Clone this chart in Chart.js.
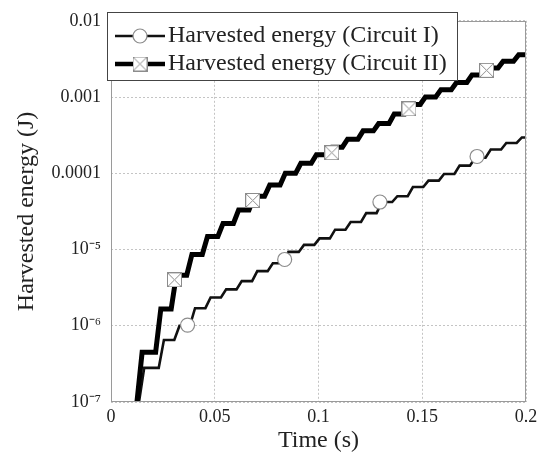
<!DOCTYPE html>
<html>
<head>
<meta charset="utf-8">
<script src="https://cdn.jsdelivr.net/npm/chart.js@4.4.1/dist/chart.umd.min.js"></script>
<style>
  body { margin: 0; background: #fff; }
  #wrap { width: 545px; height: 455px; }
</style>
</head>
<body>
<div id="wrap"><canvas id="energyChart" width="545" height="455"></canvas></div>
<script>
// values
var seriesNames = ['Harvested energy (Circuit I)', 'Harvested energy (Circuit II)'];

var xTickValues = [0, 0.05, 0.1, 0.15, 0.2];
var xTickLabels = ['0', '0.05', '0.1', '0.15', '0.2'];
var yTickValues = [1e-7, 1e-6, 1e-5, 1e-4, 1e-3, 1e-2];
var yTickLabels = ['10\u207B\u2077', '10\u207B\u2076', '10\u207B\u2075', '0.0001', '0.001', '0.01'];

// time (s) where each step starts to rise
var stepTimesI = [0.0135, 0.023, 0.0305, 0.038, 0.0455, 0.053, 0.0605, 0.068, 0.0755, 0.083, 0.0905, 0.098, 0.1055,
                  0.113, 0.1205, 0.128, 0.1355, 0.143, 0.1505, 0.158, 0.1655, 0.173, 0.1805, 0.188, 0.1955];
var stepTimesII = [0.0125, 0.0215, 0.029, 0.0365, 0.044, 0.0515, 0.059, 0.0665, 0.074, 0.0815, 0.089, 0.0965, 0.104,
                   0.1115, 0.119, 0.1265, 0.134, 0.1415, 0.149, 0.1565, 0.164, 0.1715, 0.179, 0.1865, 0.194];

// energy (J) after each step
var levelsI = [2.8e-7, 6.5e-7, 1.0e-6, 1.7e-6, 2.35e-6, 3.0e-6, 3.85e-6, 5.2e-6, 6.6e-6, 9.3e-6, 1.15e-5, 1.4e-5, 1.82e-5,
               2.3e-5, 3.0e-5, 4.2e-5, 5.0e-5, 6.6e-5, 8.0e-5, 9.8e-5, 1.26e-4, 1.6e-4, 2.05e-4, 2.5e-4, 2.95e-4];
var levelsII = [4.5e-7, 1.66e-6, 4.6e-6, 8.6e-6, 1.48e-5, 2.2e-5, 3.3e-5, 5.0e-5, 7.0e-5, 1.0e-4, 1.35e-4, 1.75e-4, 2.2e-4,
                2.8e-4, 3.6e-4, 4.5e-4, 6.0e-4, 8.0e-4, 1.0e-3, 1.25e-3, 1.55e-3, 1.95e-3, 2.4e-3, 2.95e-3, 3.6e-3];

var startLevel = 1e-7;
var riseTime = 0.0025;
var endTime = 0.2;

// marker positions
var markerXI = [0.0369, 0.0837, 0.1296, 0.1764];
var markerYI = [1.02e-6, 7.4e-6, 4.2e-5, 1.66e-4];
var markerXII = [0.0306, 0.0683, 0.1064, 0.1436, 0.181];
var markerYII = [4.0e-6, 4.4e-5, 1.86e-4, 7.0e-4, 2.24e-3];

function staircase(times, levels) {
    var pts = [];
    var prev = startLevel;
    for (var i = 0; i < times.length; i++) {
        pts.push({x: times[i], y: prev});
        pts.push({x: times[i] + riseTime, y: levels[i]});
        prev = levels[i];
    }
    pts.push({x: endTime, y: prev});
    return pts;
}

function toPoints(xs, ys) {
    return xs.map(function (x, i) { return {x: x, y: ys[i]}; });
}

// square with a cross, used for circuit II
function makeBoxCross(size) {
    var c = document.createElement('canvas');
    c.width = size;
    c.height = size;
    var g = c.getContext('2d');
    g.fillStyle = '#fff';
    g.fillRect(0, 0, size, size);
    g.strokeStyle = '#8c8c8c';
    g.lineWidth = 1;
    g.strokeRect(0.5, 0.5, size - 1, size - 1);
    g.beginPath();
    g.moveTo(1, 1); g.lineTo(size - 1, size - 1);
    g.moveTo(size - 1, 1); g.lineTo(1, size - 1);
    g.stroke();
    return c;
}
var boxCross = makeBoxCross(15);

Chart.defaults.font.family = '"Liberation Serif", "Times New Roman", serif';
Chart.defaults.color = '#222';

var framePlugin = {
    id: 'frame',
    afterDatasetsDraw: function (chart) {
        var a = chart.chartArea, ctx = chart.ctx;
        ctx.save();
        ctx.strokeStyle = '#9a9a9a';
        ctx.lineWidth = 1;
        ctx.strokeRect(Math.round(a.left) + 0.5, Math.round(a.top) + 0.5,
                       Math.round(a.right - a.left) - 1, Math.round(a.bottom - a.top) - 1);
        ctx.restore();
    }
};

var legendPlugin = {
    id: 'boxLegend',
    afterDraw: function (chart) {
        var ctx = chart.ctx;
        ctx.save();
        ctx.fillStyle = '#fff';
        ctx.fillRect(107, 12, 351, 69);
        ctx.strokeStyle = '#444';
        ctx.lineWidth = 1;
        ctx.strokeRect(107.5, 12.5, 350, 68);

        var rows = [36, 64];
        // circuit I sample
        ctx.strokeStyle = '#111';
        ctx.lineWidth = 2.6;
        ctx.beginPath(); ctx.moveTo(115, rows[0]); ctx.lineTo(165, rows[0]); ctx.stroke();
        ctx.beginPath(); ctx.arc(140, rows[0], 7, 0, Math.PI * 2);
        ctx.fillStyle = '#fff'; ctx.fill();
        ctx.strokeStyle = '#8c8c8c'; ctx.lineWidth = 1.2; ctx.stroke();
        // circuit II sample
        ctx.strokeStyle = '#000';
        ctx.lineWidth = 4.5;
        ctx.beginPath(); ctx.moveTo(115, rows[1]); ctx.lineTo(165, rows[1]); ctx.stroke();
        ctx.drawImage(boxCross, 140 - 7.5, rows[1] - 7.5);

        ctx.fillStyle = '#222';
        ctx.font = '24px "Liberation Serif", "Times New Roman", serif';
        ctx.textBaseline = 'middle';
        ctx.textAlign = 'left';
        ctx.fillText(seriesNames[0], 168, rows[0]);
        ctx.fillText(seriesNames[1], 168, rows[1]);
        ctx.restore();
    }
};

var ctx = document.getElementById('energyChart').getContext('2d');
var energyChart = new Chart(ctx, {
    type: 'line',
    data: {
        datasets: [{
            label: seriesNames[0] + ' markers',
            data: toPoints(markerXI, markerYI),
            showLine: false,
            pointStyle: 'circle',
            pointRadius: 7,
            pointBackgroundColor: '#fff',
            pointBorderColor: '#8c8c8c',
            pointBorderWidth: 1.2,
            order: 0
        }, {
            label: seriesNames[1] + ' markers',
            data: toPoints(markerXII, markerYII),
            showLine: false,
            pointStyle: boxCross,
            pointRadius: 7,
            order: 0
        }, {
            label: seriesNames[0],
            data: staircase(stepTimesI, levelsI),
            borderColor: '#111',
            borderWidth: 2.6,
            pointRadius: 0,
            tension: 0,
            order: 2
        }, {
            label: seriesNames[1],
            data: staircase(stepTimesII, levelsII),
            borderColor: '#000',
            borderWidth: 5,
            pointRadius: 0,
            tension: 0,
            order: 1
        }]
    },
    options: {
        responsive: false,
        animation: false,
        layout: { padding: { left: 0, top: 17, right: 19, bottom: 0 } },
        plugins: {
            legend: { display: false },
            tooltip: { enabled: false }
        },
        scales: {
            x: {
                type: 'linear',
                min: 0,
                max: 0.2,
                afterBuildTicks: function (axis) {
                    axis.ticks = xTickValues.map(function (v) { return {value: v}; });
                },
                afterFit: function (axis) { axis.height = 53; },
                ticks: {
                    autoSkip: false,
                    maxRotation: 0,
                    padding: 4,
                    font: { size: 18 },
                    color: '#222',
                    callback: function (value, index) { return xTickLabels[index]; }
                },
                grid: { color: '#c4c4c4', drawTicks: false },
                border: { display: false, dash: [2, 2] },
                title: {
                    display: true,
                    text: 'Time (s)',
                    font: { size: 24 },
                    color: '#222',
                    padding: { top: 0, bottom: 0 }
                }
            },
            y: {
                type: 'logarithmic',
                min: 1e-7,
                max: 1e-2,
                afterBuildTicks: function (axis) {
                    axis.ticks = yTickValues.map(function (v) { return {value: v}; });
                },
                afterFit: function (axis) { axis.width = 111; },
                ticks: {
                    autoSkip: false,
                    padding: 10,
                    font: { size: 18 },
                    color: '#222',
                    callback: function (value, index) { return yTickLabels[index]; }
                },
                grid: { color: '#c4c4c4', drawTicks: false },
                border: { display: false, dash: [2, 2] },
                title: {
                    display: true,
                    text: 'Harvested energy (J)',
                    font: { size: 24 },
                    color: '#222',
                    padding: { top: 12, bottom: 0 }
                }
            }
        }
    },
    plugins: [framePlugin, legendPlugin]
});
</script>
</body>
</html>
